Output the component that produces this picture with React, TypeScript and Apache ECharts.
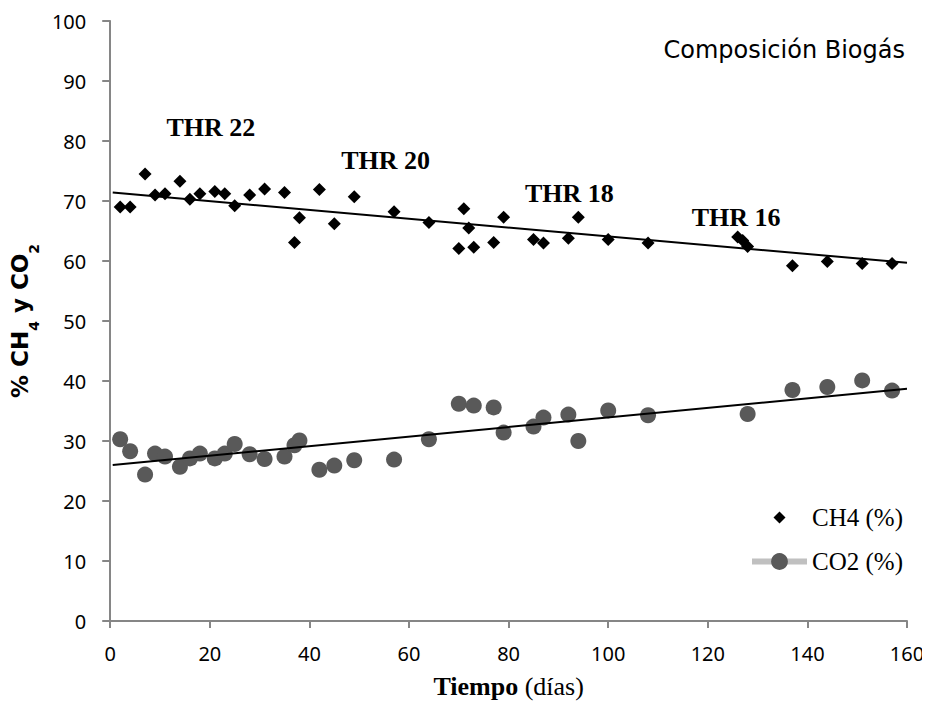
import React, { useEffect, useRef } from "react";
import * as echarts from "echarts";

// Days (x) for each series
const ch4Days = [2, 4, 7, 9, 11, 14, 16, 18, 21, 23, 25, 28, 31, 35, 37, 38, 42, 45, 49, 57, 64, 70, 71, 72, 73, 77, 79, 85, 87, 92, 94, 100, 108, 126, 127, 128, 137, 144, 151, 157];
const ch4Values = [69.0, 69.0, 74.5, 71.0, 71.2, 73.3, 70.3, 71.2, 71.6, 71.2, 69.2, 71.0, 72.0, 71.4, 63.1, 67.2, 71.9, 66.2, 70.7, 68.2, 66.4, 62.1, 68.7, 65.5, 62.3, 63.1, 67.3, 63.6, 63.0, 63.8, 67.3, 63.6, 63.0, 64.0, 63.4, 62.4, 59.2, 59.9, 59.6, 59.6];

const co2Days = [2, 4, 7, 9, 11, 14, 16, 18, 21, 23, 25, 28, 31, 35, 37, 38, 42, 45, 49, 57, 64, 70, 73, 77, 79, 85, 87, 92, 94, 100, 108, 128, 137, 144, 151, 157];
const co2Values = [30.3, 28.3, 24.4, 27.9, 27.4, 25.7, 27.1, 27.9, 27.1, 27.9, 29.5, 27.8, 27.0, 27.4, 29.3, 30.1, 25.2, 25.9, 26.8, 26.9, 30.3, 36.2, 35.9, 35.6, 31.4, 32.4, 33.9, 34.4, 30.0, 35.1, 34.3, 34.5, 38.5, 39.0, 40.1, 38.4];

// Linear trend lines (end points)
const trendDays = [0.5, 160];
const ch4Trend = [71.4, 59.7];
const co2Trend = [26.0, 38.7];

// Annotations
const thrLabels = ["THR 22", "THR 20", "THR 18", "THR 16"];
const thrDays = [20.2, 55.3, 92.2, 125.7];
const thrLevels = [82.3, 76.8, 71.3, 67.2];

const xTicks = { min: 0, max: 160, interval: 20 };
const yTicks = { min: 0, max: 100, interval: 10 };

export default function App() {
  const ref = useRef<HTMLDivElement>(null);

  useEffect(() => {
    if (!ref.current) return;
    const chart = echarts.init(ref.current, null, { renderer: "svg" });
    const axisColor = "#868686";
    const tickFont = { fontFamily: "Noto Sans", fontSize: 20, color: "#000" };
    const serif = "'Liberation Serif', 'Times New Roman', serif";

    const option: any = {
      animation: false,
      backgroundColor: "#fff",
      grid: { left: 110, right: 23, top: 21, bottom: 88, containLabel: false },
      title: {
        text: "Composición Biogás",
        right: 25,
        top: 38,
        padding: 0,
        textStyle: { fontFamily: "DejaVu Sans", fontSize: 24, fontWeight: "normal", color: "#000" },
      },
      legend: {
        orient: "vertical",
        left: 749,
        top: 505,
        padding: 0,
        itemWidth: 55,
        itemHeight: 21,
        itemGap: 19,
        textStyle: { fontFamily: serif, fontSize: 25, color: "#000" },
        data: [
          { name: "CH4 (%)", icon: "path://M0,0M21,21M10.5,4.5L16.5,10.5L10.5,16.5L4.5,10.5Z", itemStyle: { opacity: 1 } },
          { name: "CO2 (%)", lineStyle: { color: "#c0c0c0", width: 6, opacity: 1 } },
        ],
      },
      xAxis: {
        type: "value",
        min: xTicks.min,
        max: xTicks.max,
        interval: xTicks.interval,
        name: "{tb|Tiempo}{tn| (días)}",
        nameLocation: "middle",
        nameGap: 52,
        nameTextStyle: {
          fontFamily: serif,
          fontSize: 26,
          color: "#000",
          rich: {
            tb: { fontFamily: serif, fontSize: 26, fontWeight: "bold", color: "#000" },
            tn: { fontFamily: serif, fontSize: 26, fontWeight: "normal", color: "#000" },
          },
        },
        axisLine: { show: true, onZero: false, lineStyle: { color: axisColor, width: 2 } },
        axisTick: { show: true, length: 7, lineStyle: { color: axisColor, width: 2 } },
        axisLabel: { ...tickFont, margin: 22 },
        splitLine: { show: false },
      },
      yAxis: {
        type: "value",
        min: yTicks.min,
        max: yTicks.max,
        interval: yTicks.interval,
        name: "{a|% CH}{s|4}{a| y CO}{s|2}",
        nameLocation: "middle",
        nameGap: 65,
        nameRotate: 90,
        nameTextStyle: {
          fontFamily: "DejaVu Sans",
          fontWeight: "bold",
          rich: {
            a: { fontFamily: "DejaVu Sans", fontSize: 23, fontWeight: "bold", color: "#000", lineHeight: 24, verticalAlign: "top" },
            s: { fontFamily: "DejaVu Sans", fontSize: 14, fontWeight: "bold", color: "#000", lineHeight: 14, verticalAlign: "top", padding: [19, 0, 0, 0] },
          },
        },
        axisLine: { show: true, onZero: false, lineStyle: { color: axisColor, width: 2 } },
        axisTick: { show: true, length: 8, lineStyle: { color: axisColor, width: 2 } },
        axisLabel: { ...tickFont, margin: 24 },
        splitLine: { show: false },
      },
      series: [
        {
          name: "CH4 (%)",
          type: "scatter",
          symbol: "diamond",
          symbolSize: 13,
          itemStyle: { color: "#000", opacity: 1 },
          data: ch4Days.map((d, i) => [d, ch4Values[i]]),
          z: 3,
        },
        {
          name: "CO2 (%)",
          type: "line",
          symbol: "circle",
          symbolSize: 16,
          showSymbol: true,
          lineStyle: { width: 0, opacity: 0 },
          itemStyle: { color: "#595959", opacity: 1 },
          data: co2Days.map((d, i) => [d, co2Values[i]]),
          z: 3,
        },
        {
          name: "CH4 trend",
          type: "line",
          symbol: "none",
          lineStyle: { color: "#000", width: 2 },
          data: trendDays.map((d, i) => [d, ch4Trend[i]]),
          z: 4,
          silent: true,
        },
        {
          name: "CO2 trend",
          type: "line",
          symbol: "none",
          lineStyle: { color: "#000", width: 2 },
          data: trendDays.map((d, i) => [d, co2Trend[i]]),
          z: 4,
          silent: true,
        },
        {
          name: "THR",
          type: "scatter",
          symbolSize: 0,
          silent: true,
          itemStyle: { color: "#000", opacity: 1 },
          data: thrDays.map((d, i) => ({ value: [d, thrLevels[i]], name: thrLabels[i] })),
          label: {
            show: true,
            position: "inside",
            formatter: (p: any) => p.name,
            fontFamily: serif,
            fontSize: 26,
            fontWeight: "bold",
            color: "#000",
            opacity: 1,
            textBorderWidth: 0,
          },
        },
      ],
    };
    chart.setOption(option);
    return () => chart.dispose();
  }, []);

  return <div ref={ref} style={{ width: 930, height: 709, margin: -8 }} />;
}
